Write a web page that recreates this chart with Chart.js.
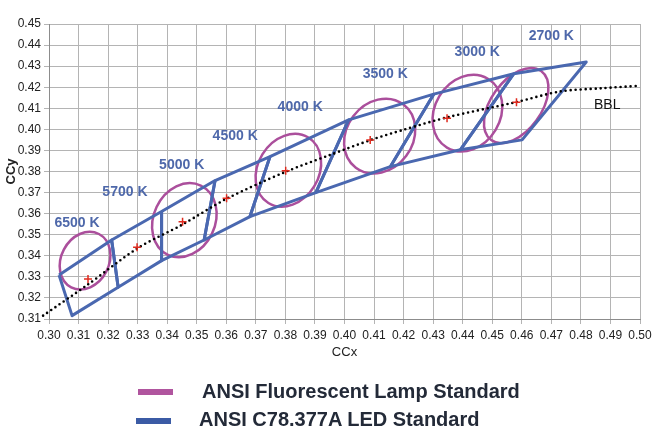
<!DOCTYPE html>
<html>
<head>
<meta charset="utf-8">
<script src="https://cdn.jsdelivr.net/npm/chart.js@4"></script>
<style>
  body { margin: 0; background: #fff; }
  #wrap { position: relative; width: 660px; height: 433px; }
  .leg { position: absolute; font: bold 20px "Liberation Sans", Arial, sans-serif; color: #232a38; white-space: nowrap; }
  .sw { position: absolute; height: 6px; width: 35px; }
</style>
</head>
<body>
<div id="wrap">
  <canvas id="chart" width="660" height="433"></canvas>
  <div class="sw" style="left:138px; top:389px; background:#b0559e;"></div>
  <div class="leg" style="left:202px; top:380px;">ANSI Fluorescent Lamp Standard</div>
  <div class="sw" style="left:136px; top:418px; background:#3b5ba5;"></div>
  <div class="leg" style="left:199px; top:408px;">ANSI C78.377A LED Standard</div>
</div>
<script>
// CCT bins (LED quadrangles, nominal points)
const cct = ['6500 K', '5700 K', '5000 K', '4500 K', '4000 K', '3500 K', '3000 K', '2700 K'];
const ledX = [0.3132, 0.3298, 0.3452, 0.3601, 0.3801, 0.4087, 0.4347, 0.4582];
const ledY = [0.3290, 0.3441, 0.3562, 0.3673, 0.3803, 0.3950, 0.4053, 0.4129];

// quadrangle boundaries, upper and lower edge, from 6500 K side to 2700 K side
const topX = [0.3034, 0.3212, 0.3381, 0.3562, 0.3748, 0.4014, 0.4302, 0.4573, 0.4818];
const topY = [0.3309, 0.3475, 0.3610, 0.3757, 0.3871, 0.4045, 0.4167, 0.4264, 0.4320];
const botX = [0.3078, 0.3234, 0.3381, 0.3525, 0.3680, 0.3903, 0.4155, 0.4392, 0.4601];
const botY = [0.3116, 0.3251, 0.3377, 0.3475, 0.3586, 0.3700, 0.3823, 0.3903, 0.3950];

// fluorescent lamp ellipses: centre, semi axes (vertical in y units, horizontal in x units), tilt in degrees
const ellCx = [0.3122, 0.3458, 0.3810, 0.4119, 0.4416, 0.4581];
const ellCy = [0.3377, 0.3569, 0.3806, 0.3968, 0.4077, 0.4113];
const ellA = [0.01425, 0.0182, 0.0182, 0.0188, 0.0190, 0.0202];
const ellB = [0.0081, 0.0104, 0.0103, 0.0112, 0.0111, 0.0085];
const ellTilt = [27.5, 25.4, 31.4, 37, 30.7, 35.9];

// black body line
const bblX = [0.298, 0.313, 0.330, 0.345, 0.360, 0.380, 0.395, 0.409, 0.420, 0.435, 0.458, 0.473, 0.487, 0.500];
const bblY = [0.3116, 0.3262, 0.3436, 0.3547, 0.3670, 0.3798, 0.3878, 0.3950, 0.3998, 0.4058, 0.4129, 0.4180, 0.4195, 0.4207];

// where the CCT names sit (data coords)
const tagX = [0.3095, 0.3257, 0.3449, 0.3630, 0.3850, 0.4138, 0.4449, 0.4700];
const tagY = [0.3557, 0.3700, 0.3828, 0.3966, 0.4107, 0.4264, 0.4367, 0.4444];

const BLUE = '#4a68b0';
const MAGENTA = '#ab4f9c';

const quadSets = cct.map((name, i) => ({
  label: name,
  data: [
    {x: topX[i], y: topY[i]}, {x: topX[i + 1], y: topY[i + 1]},
    {x: botX[i + 1], y: botY[i + 1]}, {x: botX[i], y: botY[i]},
    {x: topX[i], y: topY[i]}
  ],
  showLine: true,
  borderColor: BLUE,
  borderWidth: 3,
  pointRadius: 0,
  tension: 0,
  borderJoinStyle: 'round'
}));

const ellipses = {
  id: 'ellipses',
  beforeDatasetsDraw(chart) {
    const {ctx, scales: {x, y}, chartArea} = chart;
    ctx.save();
    ctx.beginPath();
    ctx.rect(chartArea.left, chartArea.top, chartArea.right - chartArea.left, chartArea.bottom - chartArea.top);
    ctx.clip();
    ctx.strokeStyle = MAGENTA;
    ctx.lineWidth = 2.5;
    ellCx.forEach((cx, i) => {
      const px = x.getPixelForValue(cx);
      const py = y.getPixelForValue(ellCy[i]);
      const ry = Math.abs(y.getPixelForValue(ellCy[i] + ellA[i]) - py);
      const rx = Math.abs(x.getPixelForValue(cx + ellB[i]) - px);
      ctx.beginPath();
      ctx.ellipse(px, py, rx, ry, ellTilt[i] * Math.PI / 180, 0, Math.PI * 2);
      ctx.stroke();
    });
    ctx.restore();
  }
};

const tags = {
  id: 'tags',
  afterDatasetsDraw(chart) {
    const {ctx, scales: {x, y}} = chart;
    ctx.save();
    ctx.textAlign = 'center';
    ctx.textBaseline = 'middle';
    ctx.font = 'bold 14px "Liberation Sans", Arial, sans-serif';
    ctx.fillStyle = '#4e68aa';
    cct.forEach((name, i) => {
      ctx.fillText(name, x.getPixelForValue(tagX[i]), y.getPixelForValue(tagY[i]));
    });
    ctx.font = '14px "Liberation Sans", Arial, sans-serif';
    ctx.fillStyle = '#111';
    ctx.fillText('BBL', x.getPixelForValue(0.4889), y.getPixelForValue(0.4117));
    ctx.restore();
  }
};

const tickFont = {family: '"Liberation Sans", Arial, sans-serif', size: 12};

new Chart(document.getElementById('chart'), {
  type: 'scatter',
  data: {
    datasets: [
      {
        label: 'LED nominal',
        data: ledX.map((v, i) => ({x: v, y: ledY[i]})),
        pointStyle: 'cross',
        pointRadius: 4,
        borderColor: '#e02a1e',
        pointBorderWidth: 1.5,
        showLine: false
      },
      {
        label: 'BBL',
        data: bblX.map((v, i) => ({x: v, y: bblY[i]})),
        showLine: true,
        borderColor: '#000',
        borderWidth: 2.6,
        borderDash: [0, 5],
        borderCapStyle: 'round',
        pointRadius: 0,
        tension: 0.3,
        clip: false
      },
      ...quadSets
    ]
  },
  options: {
    responsive: false,
    animation: false,
    devicePixelRatio: 1,
    layout: {padding: {top: 24, right: 20, bottom: 69, left: 0}},
    plugins: {legend: {display: false}, tooltip: {enabled: false}},
    scales: {
      x: {
        type: 'linear', min: 0.30, max: 0.50,
        ticks: {stepSize: 0.01, autoSkip: false, maxRotation: 0, color: '#222', font: tickFont, padding: 4,
          callback: v => v.toFixed(2)},
        grid: {color: '#b4b4b4', tickLength: 5},
        border: {color: '#8c8c8c'},
        title: {display: true, text: 'CCx', color: '#222', font: {family: tickFont.family, size: 13}},
        afterFit: s => { s.height = 45; }
      },
      y: {
        type: 'linear', min: 0.31, max: 0.45,
        ticks: {stepSize: 0.01, autoSkip: false, color: '#222', font: tickFont, padding: 3,
          callback: v => v.toFixed(2)},
        grid: {color: '#b4b4b4', tickLength: 5},
        border: {color: '#8c8c8c'},
        title: {display: true, text: 'CCy', color: '#222', font: {family: tickFont.family, size: 13, weight: 'bold'}},
        afterFit: s => { s.width = 49; }
      }
    }
  },
  plugins: [ellipses, tags]
});
</script>
</body>
</html>
